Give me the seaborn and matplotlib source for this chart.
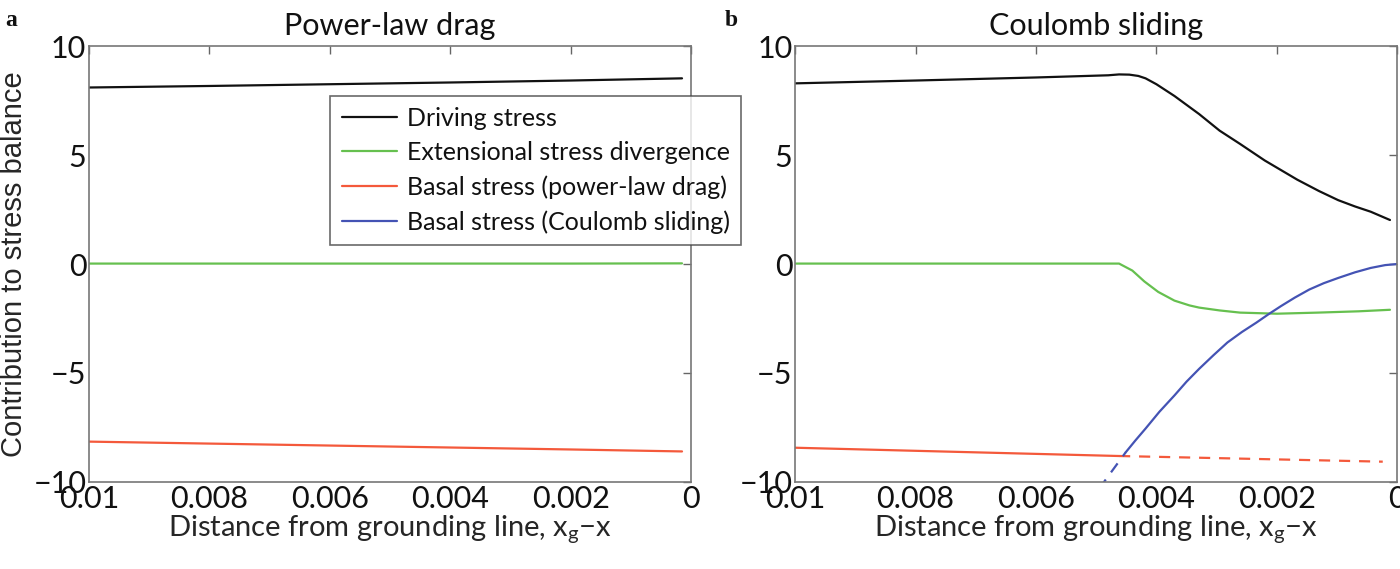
import numpy as np
import pandas as pd
import seaborn as sns
import matplotlib
matplotlib.use("Agg")
import matplotlib.pyplot as plt

# ---------------- data ----------------
# Panel a: power-law drag
xa = [0.01, 0.008, 0.006, 0.004, 0.002, 0.00015]
drive_a = [8.10, 8.17, 8.25, 8.33, 8.42, 8.52]
ext_a = [0.02, 0.02, 0.02, 0.02, 0.02, 0.03]
basal_a = [-8.15, -8.24, -8.33, -8.42, -8.51, -8.60]

# Panel b: Coulomb sliding
xb_drive = [0.01, 0.008, 0.006, 0.0048, 0.00462, 0.00445, 0.00430, 0.00418, 0.0040, 0.0037,
            0.00329, 0.00295, 0.00261, 0.0022, 0.00166, 0.00130, 0.00098, 0.00070,
            0.00044, 0.00012]
drive_b = [8.29, 8.42, 8.56, 8.66, 8.70, 8.69, 8.63, 8.52, 8.25, 7.71,
           6.88, 6.12, 5.51, 4.75, 3.87, 3.35, 2.93, 2.64, 2.40, 2.02]
xb_ext = [0.01, 0.006, 0.00462, 0.00440, 0.00420, 0.00397, 0.0037, 0.00345, 0.00329,
          0.00295, 0.00261, 0.002, 0.00132, 0.00064, 0.00012]
ext_b = [0.02, 0.02, 0.02, -0.30, -0.80, -1.28, -1.68, -1.90, -2.00,
         -2.13, -2.23, -2.28, -2.23, -2.17, -2.10]
xb_pl = [0.01, 0.00462]
pl_b = [-8.43, -8.81]
xb_pl_dash = [0.00462, 0.00024]
pl_b_dash = [-8.81, -9.07]
xb_cs = [0.00451, 0.00435, 0.00418, 0.00395, 0.0037, 0.0035, 0.00329, 0.00305, 0.00282,
         0.00258, 0.00234, 0.00213, 0.00193, 0.0017, 0.00146, 0.00122, 0.00098,
         0.0007, 0.00044, 0.0002, 0.0]
cs_b = [-8.64, -8.10, -7.55, -6.78, -6.03, -5.40, -4.81, -4.18, -3.60,
        -3.12, -2.69, -2.29, -1.93, -1.54, -1.17, -0.88, -0.64,
        -0.38, -0.18, -0.05, 0.0]
xb_cs_dash = [0.00495, 0.00451]
cs_b_dash = [-10.3, -8.64]

xticks = [0.01, 0.008, 0.006, 0.004, 0.002, 0]
xticklabels = ["0.01", "0.008", "0.006", "0.004", "0.002", "0"]
yticks = [-10, -5, 0, 5, 10]

labels = ["Driving stress", "Extensional stress divergence",
          "Basal stress (power-law drag)", "Basal stress (Coulomb sliding)"]
c_black = "#111111"
c_green = "#66c04f"
c_red = "#f4593b"
c_blue = "#4453b4"

# ---------------- style ----------------
sns.set_style("white")
plt.rcParams["font.family"] = ["Lato", "DejaVu Sans"]
plt.rcParams["mathtext.fontset"] = "custom"
plt.rcParams["mathtext.rm"] = "Lato"
plt.rcParams["mathtext.it"] = "Lato"
plt.rcParams["text.color"] = "#111111"

fig = plt.figure(figsize=(14, 5.69), dpi=100)
axa = fig.add_axes([0.0636, 0.153, 0.43, 0.766])
axb = fig.add_axes([0.568, 0.153, 0.43, 0.766])

def line(ax, x, y, color, ls="-"):
    df = pd.DataFrame({"x": x, "y": y})
    sns.lineplot(data=df, x="x", y="y", ax=ax, color=color, linestyle=ls,
                 lw=1.6, estimator=None, sort=False, legend=False)

line(axa, xa, drive_a, c_black)
line(axa, xa, ext_a, c_green)
line(axa, xa, basal_a, c_red)

line(axb, xb_drive, drive_b, c_black)
line(axb, xb_ext, ext_b, c_green)
line(axb, xb_pl, pl_b, c_red)
line(axb, xb_pl_dash, pl_b_dash, c_red, ls=(0, (5, 4)))
line(axb, xb_cs, cs_b, c_blue)
line(axb, xb_cs_dash, cs_b_dash, c_blue, ls=(0, (5, 4)))

for ax, title in [(axa, "Power-law drag"), (axb, "Coulomb sliding")]:
    ax.set_xlim(0.01, 0)
    ax.set_ylim(-10, 10)
    ax.set_xticks(xticks)
    ax.set_xticklabels(xticklabels)
    ax.set_yticks(yticks)
    ax.tick_params(axis="both", direction="in", length=6, width=1, color="#666666",
                   labelsize=22, labelcolor="#111111", top=True, right=True, pad=2)
    for s in ax.spines.values():
        s.set_color("#777777")
        s.set_linewidth(1.2)
    ax.set_xlabel("Distance from grounding line, x$_\\mathrm{g}$\u2212x", fontsize=21, labelpad=0)
    ax.set_ylabel("")
    ax.set_title(title, fontsize=22, pad=8)

axa.set_ylabel("Contribution to stress balance", fontsize=21,
               family=["Liberation Sans", "DejaVu Sans"], labelpad=4)

handles = [plt.Line2D([], [], color=c, lw=1.6) for c in [c_black, c_green, c_red, c_blue]]
leg = axa.legend(handles, labels, loc="upper left", bbox_to_anchor=(0.38, 0.915),
                 fontsize=18, frameon=True, fancybox=False, edgecolor="#444444",
                 handlelength=2.2, handletextpad=0.4, labelspacing=0.45,
                 borderpad=0.45)
leg.get_frame().set_linewidth(1.2)
leg.set_zorder(10)

fig.text(0.004, 0.955, "a", fontsize=17, fontweight="bold", family=["Liberation Serif", "DejaVu Serif"])
fig.text(0.518, 0.955, "b", fontsize=17, fontweight="bold", family=["Liberation Serif", "DejaVu Serif"])

fig.savefig("out.png", dpi=100)
